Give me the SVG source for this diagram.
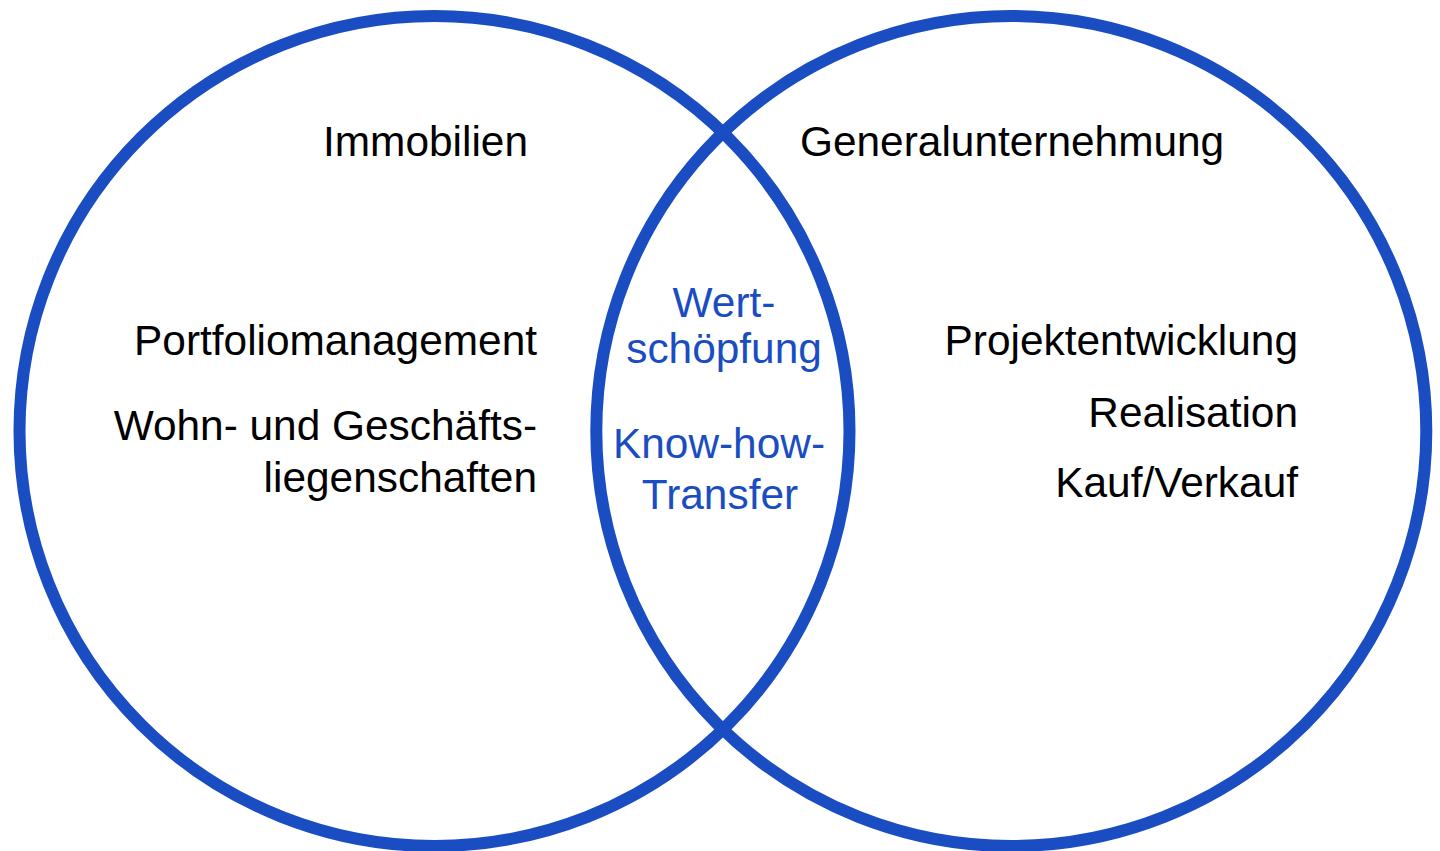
<svg xmlns="http://www.w3.org/2000/svg" width="1440" height="851" viewBox="0 0 1440 851">
<style>
.ring{fill:none;stroke:#1A4DC1;stroke-width:12}
.t{font-family:"Liberation Sans",Arial,sans-serif;font-size:42.4px;fill:#000}
.b{font-family:"Liberation Sans",Arial,sans-serif;font-size:42.4px;fill:#1A4DC1;text-anchor:middle}
.r{text-anchor:end}
</style>
<rect width="1440" height="851" fill="#fff"/>
<g id="left-circle">
<circle class="ring" cx="434.5" cy="431" r="415"/>
<text class="t" x="323" y="156">Immobilien</text>
<text class="t r" x="537" y="355">Portfoliomanagement</text>
<text class="t r" x="537" y="440">Wohn- und Geschäfts-</text>
<text class="t r" x="537" y="492">liegenschaften</text>
</g>
<g id="right-circle">
<circle class="ring" cx="1011.3" cy="431" r="415"/>
<text class="t" x="800" y="156">Generalunternehmung</text>
<text class="t r" x="1298" y="355">Projektentwicklung</text>
<text class="t r" x="1298" y="427">Realisation</text>
<text class="t r" x="1298" y="497">Kauf/Verkauf</text>
</g>
<g id="intersection">
<text class="b" x="724" y="317">Wert-</text>
<text class="b" x="724" y="363">schöpfung</text>
<text class="b" x="719" y="458">Know-how-</text>
<text class="b" x="720" y="509">Transfer</text>
</g>
<g id="connectors"></g>
</svg>
